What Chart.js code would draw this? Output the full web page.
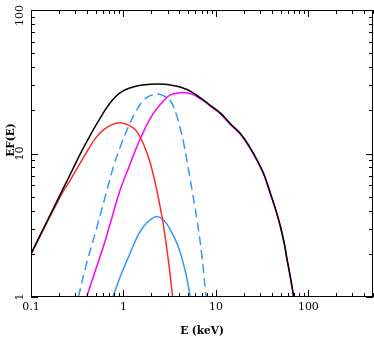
<!DOCTYPE html>
<html lang="en">
<head>
<meta charset="UTF-8">
<script src="https://cdn.jsdelivr.net/npm/chart.js"></script>
<title>EF(E)</title>
<style>
    html, body { margin: 0; padding: 0; background: #ffffff; }
    #wrap { width: 374px; height: 337px; }
</style>
</head>
<body>
<div id="wrap"><canvas id="spectrum"></canvas></div>
<script>
// values (E in keV, EF(E))
const totalE = [0.1, 0.13, 0.17, 0.22, 0.28, 0.35, 0.44, 0.55, 0.63, 0.72, 0.8, 0.9, 1.05, 1.3, 1.7, 2.3, 2.8, 3.3, 3.8, 4.4, 5.0, 5.8, 6.8, 9.0, 11.2, 14.5, 18.4, 23, 27.9, 33, 38.8, 45, 49.9, 55, 58.9, 64, 69.5];
const totalF = [2.0, 2.82, 4.0, 5.6, 7.67, 10.26, 13.5, 17.3, 20.0, 22.6, 24.5, 26.2, 27.8, 29.2, 30.1, 30.5, 30.35, 29.95, 29.4, 28.6, 27.7, 26.2, 24.4, 21.3, 19.1, 16.0, 13.8, 11.2, 9.0, 7.2, 5.3, 3.95, 3.1, 2.35, 1.82, 1.37, 1.0];

const redE = [0.1, 0.13, 0.17, 0.22, 0.265, 0.35, 0.436, 0.5, 0.607, 0.75, 0.921, 1.18, 1.4, 1.65, 1.95, 2.2, 2.5, 2.7, 2.95, 3.15, 3.4];
const redF = [1.98, 2.78, 3.9, 5.35, 6.5, 8.85, 11.2, 12.8, 14.6, 15.9, 16.4, 15.6, 14.2, 11.6, 8.56, 6.3, 4.2, 3.2, 2.15, 1.55, 1.0];

const magE = [0.4, 0.5, 0.607, 0.75, 0.921, 1.15, 1.4, 1.7, 2.11, 2.6, 3.21, 4.11, 4.9, 5.73, 6.8, 7.6, 9.0, 11.2, 14.5, 18.4, 23, 27.9, 33, 38.8, 45, 49.9, 55, 58.9, 64, 69.3];
const magF = [1.0, 1.55, 2.25, 3.57, 5.58, 8.1, 11.2, 14.8, 19.1, 22.6, 25.6, 26.5, 26.4, 25.6, 24.0, 23.0, 21.0, 18.9, 15.8, 13.6, 11.05, 8.9, 7.1, 5.23, 3.9, 3.06, 2.32, 1.8, 1.35, 1.0];

const dashE = [0.325, 0.4, 0.515, 0.64, 0.78, 0.96, 1.18, 1.4, 1.65, 1.95, 2.3, 2.7, 3.21, 3.7, 4.11, 4.47, 5.28, 6.24, 7.07, 7.68, 7.85];
const dashF = [1.0, 1.72, 3.05, 5.1, 8.11, 11.9, 16.3, 20.2, 23.6, 25.3, 26.0, 25.3, 23.3, 19.0, 15.0, 11.9, 6.55, 3.45, 1.92, 1.12, 1.0];

const blueE = [0.767, 0.95, 1.18, 1.4, 1.65, 1.95, 2.3, 2.7, 3.21, 3.7, 4.11, 4.7, 5.28];
const blueF = [1.0, 1.45, 2.02, 2.6, 3.1, 3.45, 3.64, 3.45, 2.94, 2.45, 2.05, 1.48, 1.0];

const xTickLabels = [0.1, 1, 10, 100];
const yTickLabels = [1, 10, 100];

const serif = "'DejaVu Serif', 'Liberation Serif', serif";

function pairs(xs, ys) {
    return xs.map((x, i) => ({x: x, y: ys[i]}));
}

function curve(xs, ys, color, dash) {
    return {
        data: pairs(xs, ys),
        borderColor: color,
        borderWidth: 1.5,
        borderDash: dash || [],
        pointRadius: 0,
        showLine: true,
        fill: false,
        tension: 0.4
    };
}

const frameTicks = {
    id: 'frameTicks',
    afterDraw(chart) {
        const ctx = chart.ctx;
        const a = chart.chartArea;
        const xs = chart.scales.x;
        const ys = chart.scales.y;
        ctx.save();
        ctx.strokeStyle = '#000';
        ctx.lineWidth = 1;
        ctx.strokeRect(a.left + 0.5, a.top + 0.5, a.right - a.left - 1, a.bottom - a.top - 1);

        ctx.beginPath();
        for (let d = 0.1; d < xs.max; d *= 10) {
            for (let m = 1; m <= 9; m++) {
                const v = m * d;
                if (v < xs.min * 0.999 || v > xs.max * 1.001) continue;
                const px = Math.round(xs.getPixelForValue(v)) + 0.5;
                const len = m === 1 ? 7 : 4;
                ctx.moveTo(px, a.bottom);
                ctx.lineTo(px, a.bottom - len);
                ctx.moveTo(px, a.top);
                ctx.lineTo(px, a.top + len);
            }
        }
        for (let d = 1; d < ys.max; d *= 10) {
            for (let m = 1; m <= 9; m++) {
                const v = m * d;
                if (v < ys.min * 0.999 || v > ys.max * 1.001) continue;
                const py = Math.round(ys.getPixelForValue(v)) + 0.5;
                const len = m === 1 ? 7 : 4;
                ctx.moveTo(a.left, py);
                ctx.lineTo(a.left + len, py);
                ctx.moveTo(a.right, py);
                ctx.lineTo(a.right - len, py);
            }
        }
        ctx.stroke();

        // rotated y labels and title
        ctx.fillStyle = '#000';
        ctx.font = '11px ' + serif;
        ctx.textAlign = 'center';
        ctx.textBaseline = 'middle';
        yTickLabels.forEach(v => {
            const text = String(v);
            const w = ctx.measureText(text).width;
            let py = ys.getPixelForValue(v);
            py = Math.max(py, a.top - 5 + w / 2);
            ctx.save();
            ctx.translate(20, py);
            ctx.rotate(-Math.PI / 2);
            ctx.fillText(text, 0, 0);
            ctx.restore();
        });
        ctx.font = 'bold 10.5px ' + serif;
        ctx.save();
        ctx.translate(11, 140);
        ctx.rotate(-Math.PI / 2);
        ctx.fillText('EF(E)', 0, 0);
        ctx.restore();
        ctx.restore();
    }
};

const chart = new Chart(document.getElementById('spectrum'), {
    type: 'scatter',
    data: {
        datasets: [
            curve(totalE, totalF, '#000000'),
            curve(magE, magF, '#ff00ff'),
            curve(redE, redF, '#ff2a2a'),
            curve(dashE, dashF, '#3399ff', [9, 5]),
            curve(blueE, blueF, '#3399ff')
        ]
    },
    options: {
        responsive: true,
        maintainAspectRatio: false,
        animation: false,
        layout: { padding: { top: 10, right: 1, left: 0, bottom: 0 } },
        plugins: {
            legend: { display: false },
            tooltip: { enabled: false }
        },
        scales: {
            x: {
                type: 'logarithmic',
                min: 0.1,
                max: 500,
                grid: { display: false, drawTicks: false },
                border: { display: false },
                afterBuildTicks: s => { s.ticks = xTickLabels.map(v => ({ value: v })); },
                afterFit: s => { s.height = 40; },
                ticks: {
                    autoSkip: false,
                    maxRotation: 0,
                    padding: 4,
                    color: '#000',
                    font: { family: serif, size: 11 },
                    callback: v => String(v)
                },
                title: {
                    display: true,
                    text: 'E (keV)',
                    color: '#000',
                    padding: 0,
                    font: { family: serif, size: 10.5, weight: 'bold', lineHeight: 1.0 }
                }
            },
            y: {
                type: 'logarithmic',
                min: 1,
                max: 100,
                grid: { display: false, drawTicks: false },
                border: { display: false },
                ticks: { display: false },
                afterFit: s => { s.width = 31; }
            }
        }
    },
    plugins: [frameTicks]
});
</script>
</body>
</html>
